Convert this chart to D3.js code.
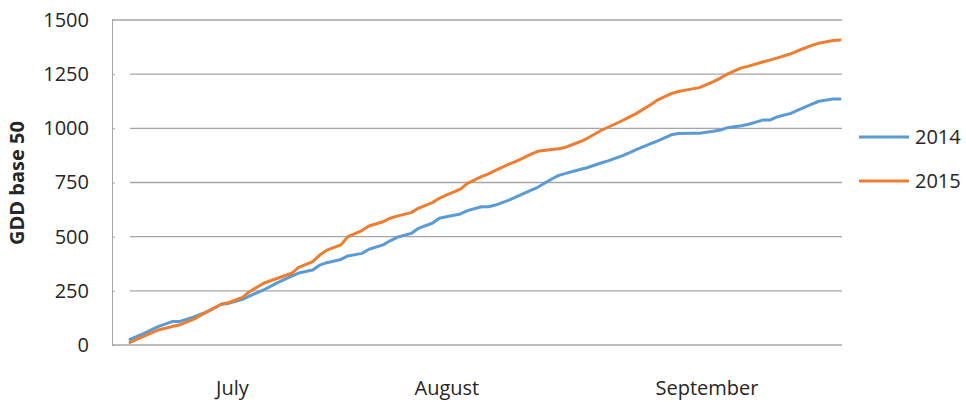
<html>
	<script src='https://d3js.org/d3.v7.min.js'></script>
	<style>
		body {margin: 0; background: white;}
		text {font-family: 'Open Sans', sans-serif; fill: #262626;}
	</style>
	<body onload='init()'>
		<svg width=966 height=402></svg>
		<script>
			var days = [0, 2, 4, 6, 7, 9, 11, 13, 14, 16, 17, 19, 21, 23, 24, 26, 27, 28, 30, 31, 33, 34, 36, 37, 38, 40, 41, 43, 44, 45, 47, 48, 50,
				51, 52, 54, 55, 57, 58, 60, 61, 62, 64, 65, 67, 68, 70, 71, 72, 74, 75, 77, 78, 80, 81, 83, 84, 85, 87, 88, 90, 91, 92, 94, 95, 97, 98, 100, 101];

			var gdd2014 = [26, 54, 85, 108, 108, 128, 154, 188, 192, 211, 226, 254, 288, 318, 332, 346, 369, 380, 395, 411, 423, 442, 462, 481, 497, 515, 538, 562, 585, 592, 605, 620, 638,
				638, 646, 670, 685, 714, 728, 766, 783, 792, 810, 818, 840, 850, 873, 887, 902, 928, 941, 970, 976, 977, 977, 987, 992, 1003, 1012, 1019, 1038, 1038, 1052, 1069, 1084, 1112, 1125, 1135, 1135];

			var gdd2015 = [12, 41, 69, 85, 92, 118, 154, 188, 195, 220, 246, 285, 308, 331, 358, 385, 415, 438, 462, 500, 528, 549, 569, 585, 595, 611, 631, 657, 677, 692, 719, 746, 777,
				790, 806, 836, 849, 880, 894, 902, 906, 913, 938, 953, 990, 1005, 1035, 1052, 1068, 1108, 1130, 1160, 1170, 1182, 1188, 1216, 1232, 1251, 1279, 1287, 1306, 1315, 1324, 1344, 1358, 1383, 1393, 1405, 1408];

			var seriesNames = ["2014", "2015"];
			var seriesColors = ["#5b9bd5", "#ed7d31"];

			var yTicks = [0, 250, 500, 750, 1000, 1250, 1500];
			var monthNames = ["July", "August", "September"];
			var monthDays = [14.5, 45, 82];

			function init() {
				var svg = d3.select("svg");

				// scales for the plotting space

				var x = d3.scaleLinear().domain([0, 101]).range([130, 840]);
				var y = d3.scaleLinear().domain([0, 1500]).range([345, 20]);

				// horizontal gridlines

				svg.append("g").selectAll("line").data(yTicks).enter().append("line")
					.attr("x1", function(d) { return (d == 0 || d == 1500) ? 112 : 130; })
					.attr("x2", 842)
					.attr("y1", function(d) { return y(d); })
					.attr("y2", function(d) { return y(d); })
					.attr("stroke", "#a6a6a6").attr("stroke-width", 1.3);

				// y-axis

				var yAxis = svg.append("g").attr("transform", "translate(112,0)")
					.call(d3.axisLeft(y).tickValues(yTicks).tickFormat(d3.format("d")).tickSizeInner(-3).tickSizeOuter(0).tickPadding(23));
				yAxis.select(".domain").attr("stroke", "#a6a6a6");
				yAxis.selectAll(".tick line").attr("stroke", "#a6a6a6");
				yAxis.selectAll("text").style("font-family", "'Open Sans', sans-serif").style("font-size", "20px").attr("fill", "#262626");

				// x-axis month labels

				var xAxis = svg.append("g").attr("transform", "translate(0,345)")
					.call(d3.axisBottom(x).tickValues(monthDays).tickFormat(function(d, i) { return monthNames[i]; }).tickSize(0).tickPadding(36));
				xAxis.select(".domain").remove();
				xAxis.selectAll("text").style("font-family", "'Open Sans', sans-serif").style("font-size", "20px").attr("fill", "#262626");

				// y-axis title

				svg.append("text").attr("transform", "translate(24,183) rotate(-90)")
					.attr("text-anchor", "middle").style("font-size", "20px").style("font-weight", "bold")
					.text("GDD base 50");

				// the two lines

				var allSeries = [gdd2014, gdd2015];
				var line = d3.line()
					.x(function(d, i) { return x(days[i]); })
					.y(function(d) { return y(d); });

				svg.append("g").selectAll("path").data(allSeries).enter().append("path")
					.attr("d", line)
					.attr("fill", "none")
					.attr("stroke", function(d, i) { return seriesColors[i]; })
					.attr("stroke-width", 3)
					.attr("stroke-linejoin", "round").attr("stroke-linecap", "round");

				// legend

				var legend = svg.append("g").selectAll("g").data(seriesNames).enter().append("g")
					.attr("transform", function(d, i) { return "translate(859," + (137 + i * 44) + ")"; });
				legend.append("line").attr("x1", 0).attr("x2", 50)
					.attr("stroke", function(d, i) { return seriesColors[i]; }).attr("stroke-width", 3);
				legend.append("text").attr("x", 56).attr("dy", "0.36em")
					.style("font-size", "20px").text(function(d) { return d; });
			}
		</script>
	</body>
</html>
